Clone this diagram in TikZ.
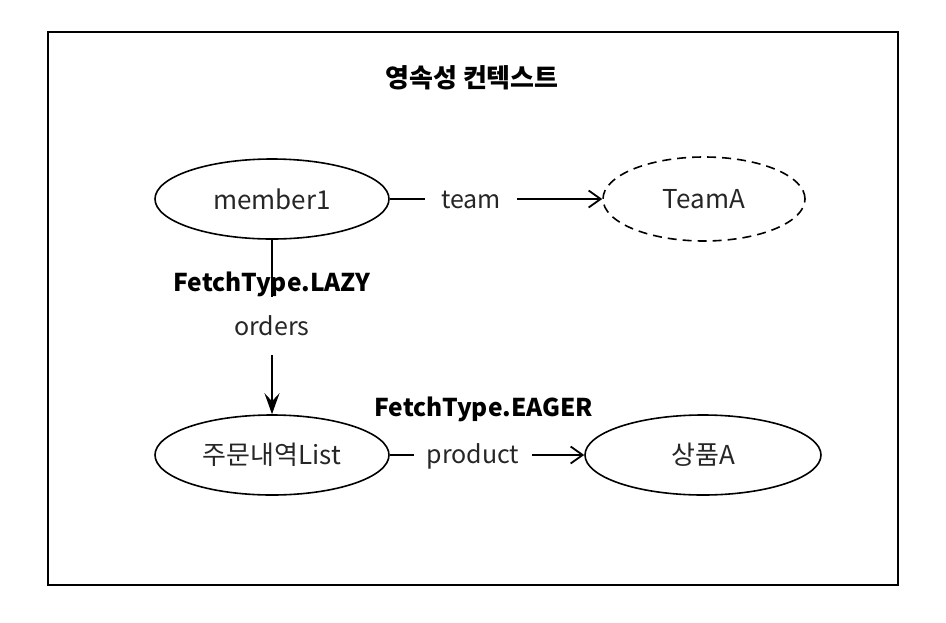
\documentclass[tikz,border=0pt]{standalone}
\usepackage{fontspec}
\setmainfont{Noto Sans CJK KR}
\usetikzlibrary{shapes.geometric,arrows.meta}
\begin{document}
\begin{tikzpicture}[x=1pt,y=-1pt,
  ent/.style={draw,line width=1.6pt,ellipse,minimum width=234pt,minimum height=80pt,inner sep=0pt,font=\fontsize{26}{30}\selectfont,text=black!85},
  lbl/.style={font=\fontsize{25}{30}\selectfont,text=black!85,inner sep=0pt},
  blbl/.style={font=\fontsize{24.5}{30}\selectfont\bfseries,inner sep=0pt},
  conn/.style={line width=1.6pt},
  harr/.style={conn,-{Straight Barb[length=12pt,width=17pt,line width=1.8pt]}},
  varr/.style={conn,-{Stealth[length=21pt,width=15pt,inset=8pt]}}]
\useasboundingbox (0,0) rectangle (946,622);
\node[draw,line width=1.6pt,minimum width=850pt,minimum height=553pt,inner sep=0pt] (frame) at (473,308.5) {};
\node[font=\fontsize{26}{30}\selectfont\bfseries] (title) at (472,78) {영속성 컨텍스트};
\node[ent] (m1) at (272,199) {member1};
\node[ent,dashed,dash pattern=on 9pt off 6pt,minimum width=202pt,minimum height=84pt] (ta) at (704,199) {TeamA};
\node[ent] (ol) at (272,455) {주문내역List};
\node[ent,minimum width=236pt] (pa) at (703,455) {상품A};
\node[lbl,inner xsep=16pt] (team) at (471,200) {team};
\draw[conn] (m1.east) -- (m1.east -| team.west);
\draw[harr] (ta.west -| team.east) -- (ta.west);
\node[blbl] (lazy) at (272,284) {FetchType.LAZY};
\node[lbl,minimum height=58pt] (orders) at (272,326) {orders};
\draw[conn] (m1.south) -- (orders.north);
\draw[varr] (orders.south) -- (ol.north);
\node[blbl] (eager) at (484,409) {FetchType.EAGER};
\node[lbl,inner xsep=12pt] (product) at (473,456) {product};
\draw[conn] (ol.east) -- (ol.east -| product.west);
\draw[harr] (pa.west -| product.east) -- (pa.west);
\end{tikzpicture}
\end{document}
